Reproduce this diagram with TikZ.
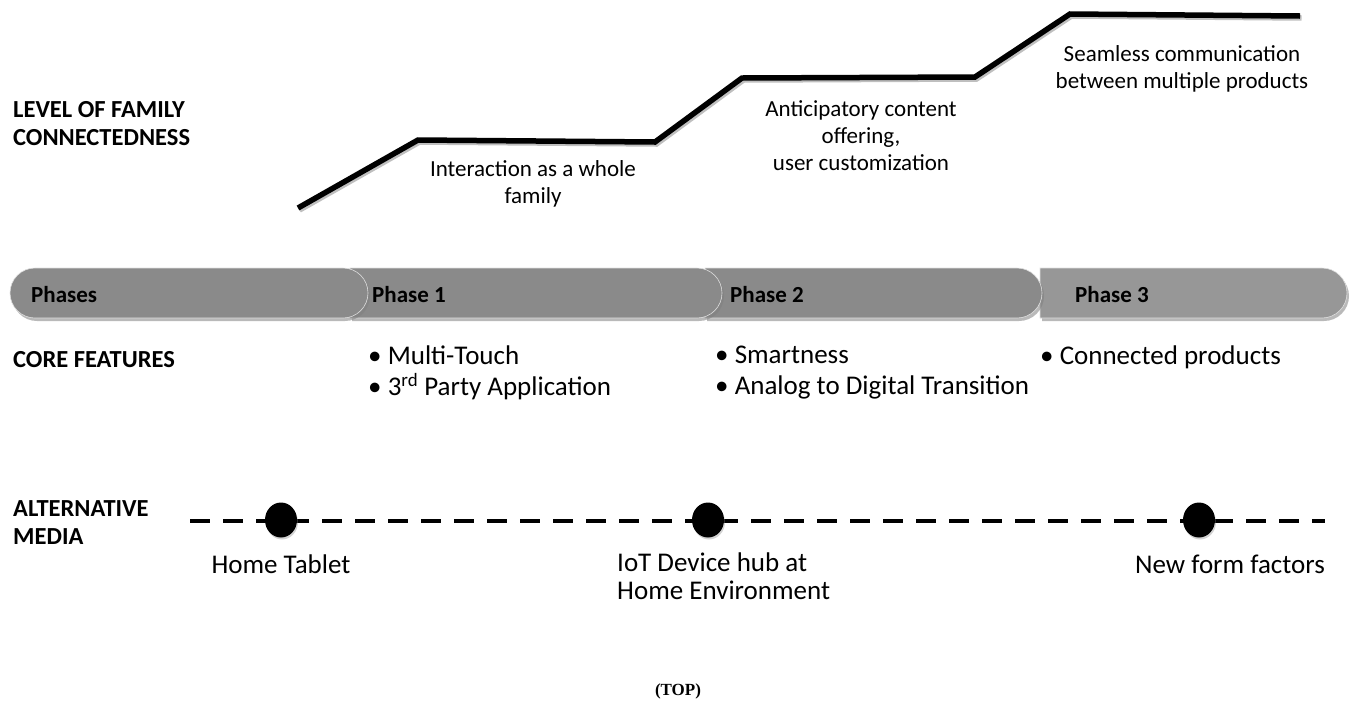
\documentclass[tikz,border=0pt]{standalone}
\usepackage{fontspec}
\setmainfont{Carlito}
\usetikzlibrary{shapes.misc,shapes.geometric,shadows}
\definecolor{boxgray}{HTML}{8A8A8A}
\definecolor{boxgrayl}{HTML}{979797}
\begin{document}
\begin{tikzpicture}[x=1pt,y=-1pt,
  stair/.style={line width=5.5pt, line join=miter},
  stairtxt/.style={font=\fontsize{23}{27}\selectfont, align=center, inner sep=0},
  side/.style={font=\bfseries\fontsize{24.5}{28}\selectfont, align=left, anchor=west, inner sep=0},
  pbox/.style={rounded rectangle, minimum height=50pt, fill=#1, draw=white!75!gray, line width=0.6pt,
    drop shadow={shadow xshift=2pt, shadow yshift=-3pt, opacity=0.55}, inner sep=0},
  ptxt/.style={font=\bfseries\fontsize{23}{26}\selectfont, anchor=west, inner sep=0},
  feat/.style={font=\fontsize{27}{31}\selectfont, align=left, anchor=west, inner sep=0},
  dot/.style={ellipse, fill=black, minimum width=32pt, minimum height=35pt, inner sep=0,
    drop shadow={shadow xshift=1pt, shadow yshift=-2pt, opacity=0.35}},
  medtxt/.style={font=\fontsize{27}{28}\selectfont, inner sep=0},
  media/.style={line width=4pt, dash pattern=on 20pt off 13pt}
]
\useasboundingbox (0,0) rectangle (1355,713);

% staircase
\coordinate (s0) at (298,208);
\coordinate (s1) at (418,140);
\coordinate (s2) at (655,142);
\coordinate (s3) at (742,78);
\coordinate (s4) at (975,77);
\coordinate (s5) at (1070,14);
\coordinate (s6) at (1300,16);
\draw[stair, black!25, transform canvas={xshift=1.5pt,yshift=-2pt}] (s0) -- (s1) -- (s2) -- (s3) -- (s4) -- (s5) -- (s6);
\draw[stair] (s0) -- (s1) -- (s2) -- (s3) -- (s4) -- (s5) -- (s6);

\node[stairtxt] (t1) at (533,184) {Interaction as a whole\\family};
\node[stairtxt] (t2) at (861,136) {Anticipatory content\\offering,\\user customization};
\node[stairtxt] (t3) at (1182,69) {Seamless communication\\between multiple products};

\node[side] (l1) at (13,124) {LEVEL OF FAMILY\\CONNECTEDNESS};

% phase bar
\node[pbox=boxgrayl, rounded rectangle left arc=none, minimum width=307pt] (b3) at (1193.5,293) {};
\node[pbox=boxgray, rounded rectangle left arc=none, minimum width=337pt] (b2) at (873.5,293) {};
\node[pbox=boxgray, rounded rectangle left arc=none, minimum width=372pt] (b1) at (536,293) {};
\node[pbox=boxgray, minimum width=358pt] (b0) at (189,293) {};
\node[ptxt] (p0) at (31,295) {Phases};
\node[ptxt] (p1) at (372,295) {Phase 1};
\node[ptxt] (p2) at (730,295) {Phase 2};
\node[ptxt] (p3) at (1075,295) {Phase 3};

% core features
\node[side] (l2) at (13,360) {CORE FEATURES};
\node[feat] (f1) at (368,372.5) {\textbullet\ Multi-Touch\\\textbullet\ 3\textsuperscript{rd} Party Application};
\node[feat] (f2) at (715,372.5) {\textbullet\ Smartness\\\textbullet\ Analog to Digital Transition};
\node[feat] (f3) at (1040,357) {\textbullet\ Connected products};

% alternative media
\node[side] (l3) at (13,523) {ALTERNATIVE\\MEDIA};
\coordinate (m0) at (190,521);
\coordinate (m1) at (1325,521);
\draw[media] (m0) -- (m1);
\node[dot] (d1) at (281,520) {};
\node[dot] (d2) at (708,520) {};
\node[dot] (d3) at (1199,520) {};
\node[medtxt] (h1) at (281,564) {Home Tablet};
\node[medtxt, anchor=west, align=left] (h2) at (617,576) {IoT Device hub at\\Home Environment};
\node[medtxt] (h3) at (1230,564) {New form factors};

\node[font=\fontspec{Liberation Serif}\bfseries\fontsize{17}{20}\selectfont] (top) at (678,691) {(TOP)};
\end{tikzpicture}
\end{document}
